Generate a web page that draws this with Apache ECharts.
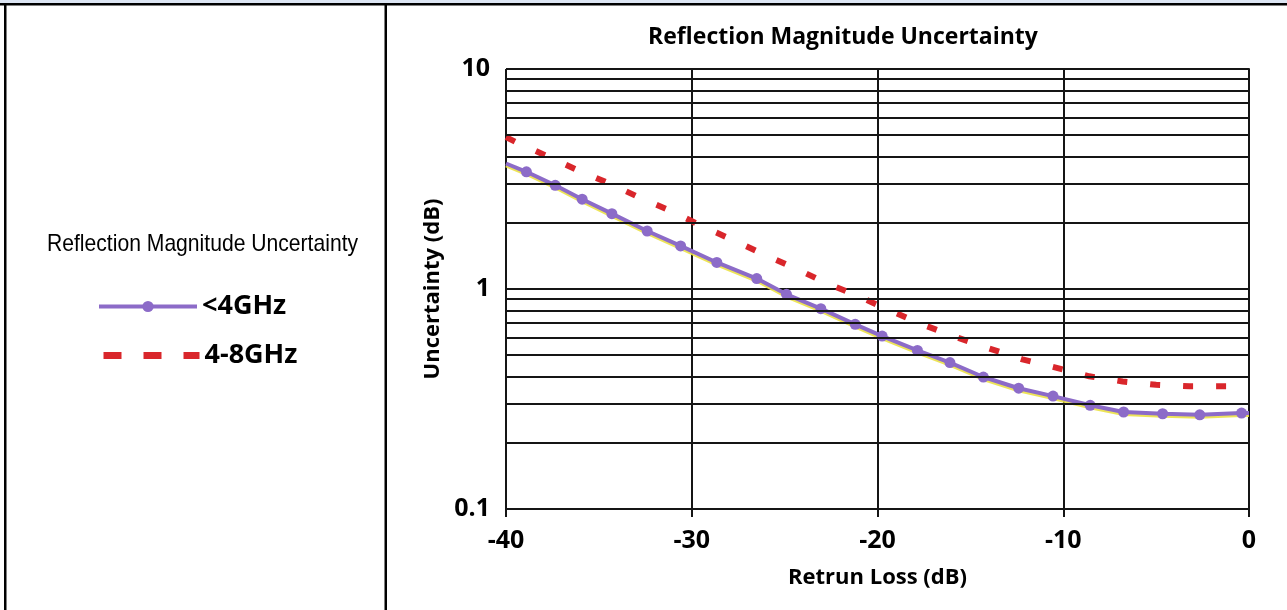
<!DOCTYPE html>
<html>
<head>
<meta charset="utf-8">
<script src="https://cdn.jsdelivr.net/npm/echarts@6/dist/echarts.min.js"></script>
<style>
html,body{margin:0;padding:0;background:#fff;}
#chart{width:1287px;height:610px;}
</style>
</head>
<body>
<div id="chart"></div>
<script>
// ---- data ----
const seriesNames = ['<4GHz', '4-8GHz'];
const returnLossLow = [-40, -38.9, -37.35, -35.9, -34.3, -32.4, -30.6, -28.65, -26.5, -24.9, -23.05, -21.2, -19.75, -17.85, -16.1, -14.3, -12.4, -10.55, -8.55, -6.75, -4.65, -2.65, -0.4, 0];
const uncertaintyLow = [3.72, 3.41, 2.96, 2.56, 2.20, 1.835, 1.57, 1.32, 1.115, 0.946, 0.814, 0.691, 0.611, 0.526, 0.463, 0.398, 0.354, 0.326, 0.296, 0.276, 0.271, 0.268, 0.273, 0.273];
const returnLossHigh = [-40, -39.5, -37.8, -36.15, -34.45, -32.75, -31.1, -29.45, -27.75, -26.1, -24.4, -22.75, -21.05, -19.35, -17.6, -15.8, -14.05, -12.2, -10.4, -8.6, -6.8, -5.0, -3.2, -1.4, 0];
const uncertaintyHigh = [4.9, 4.67, 4.02, 3.47, 3.02, 2.59, 2.26, 1.93, 1.665, 1.434, 1.238, 1.065, 0.929, 0.80, 0.691, 0.605, 0.539, 0.479, 0.439, 0.401, 0.380, 0.367, 0.361, 0.361, 0.361];
const minorGridValues = [0.2, 0.3, 0.4, 0.5, 0.6, 0.7, 0.8, 0.9, 2, 3, 4, 5, 6, 7, 8, 9];
const chartTitle = 'Reflection Magnitude Uncertainty';
const xAxisName = 'Retrun Loss (dB)';
const yAxisName = 'Uncertainty (dB)';

const lowData = returnLossLow.map((x, i) => [x, uncertaintyLow[i]]);
const highData = returnLossHigh.map((x, i) => [x, uncertaintyHigh[i]]);

const FONT = '"Open Sans", "DejaVu Sans", sans-serif';
const PURPLE = '#8C6BC8';
const RED = '#D9262B';
const GRID = '#151515';

const chart = echarts.init(document.getElementById('chart'), null, {renderer: 'canvas'});
chart.setOption({
  animation: false,
  backgroundColor: '#fff',
  title: {
    text: chartTitle,
    left: 838,
    textAlign: 'center',
    top: 21,
    textStyle: {fontFamily: FONT, fontWeight: 'bold', fontSize: 23, color: '#000'}
  },
  legend: [
    {
      data: [{name: seriesNames[0], lineStyle: {width: 4}}],
      left: 97, top: 293, orient: 'horizontal', padding: 0,
      itemWidth: 98, itemHeight: 14,
      textStyle: {fontFamily: FONT, fontWeight: 'bold', fontSize: 27, color: '#000'},
      selectedMode: false
    },
    {
      data: [{name: seriesNames[1], lineStyle: {type: [18, 22], width: 7}, itemStyle: {opacity: 0}}],
      left: 100, top: 342, orient: 'horizontal', padding: 0,
      itemWidth: 96, itemHeight: 14,
      textStyle: {fontFamily: FONT, fontWeight: 'bold', fontSize: 27, color: '#000'},
      selectedMode: false
    }
  ],
  grid: {left: 506, right: 38, top: 69, bottom: 101, containLabel: false},
  xAxis: {
    type: 'value', min: -40, max: 0, interval: 10,
    name: xAxisName, nameLocation: 'middle', nameGap: 58,
    nameTextStyle: {fontFamily: FONT, fontWeight: 'bold', fontSize: 22, color: '#000'},
    axisLine: {show: true, lineStyle: {color: GRID, width: 2}},
    axisTick: {show: true, length: 8, lineStyle: {color: GRID, width: 2}},
    axisLabel: {fontFamily: FONT, fontWeight: 'bold', fontSize: 25, color: '#000', margin: 19},
    splitLine: {show: true, lineStyle: {color: GRID, width: 2}}
  },
  yAxis: {
    type: 'log', logBase: 10, min: 0.1, max: 10,
    name: yAxisName, nameLocation: 'middle', nameGap: 60,
    nameTextStyle: {fontFamily: FONT, fontWeight: 'bold', fontSize: 22, color: '#000'},
    axisLine: {show: true, lineStyle: {color: GRID, width: 2}},
    axisTick: {show: true, length: 7, lineStyle: {color: GRID, width: 2}},
    axisLabel: {fontFamily: FONT, fontWeight: 'bold', fontSize: 25, color: '#000', margin: 16},
    splitLine: {show: true, lineStyle: {color: GRID, width: 2}},
    minorTick: {show: false}, minorSplitLine: {show: false}
  },
  series: [
    {
      name: 'minor-grid', type: 'line', data: [], z: 1, silent: true,
      markLine: {
        silent: true, symbol: ['none', 'none'], label: {show: false},
        lineStyle: {color: GRID, width: 1.8, type: 'solid'},
        data: minorGridValues.map(v => ({yAxis: v}))
      }
    },
    {
      name: seriesNames[1], type: 'line', data: highData, z: 3,
      showSymbol: false, symbol: 'none',
      lineStyle: {color: RED, width: 6, type: [10, 23]},
      itemStyle: {color: RED}
    },
    {
      name: seriesNames[0], type: 'line', data: lowData, z: 4,
      symbol: (val, p) => (p.dataIndex === 0 || p.dataIndex === lowData.length - 1) ? 'none' : 'circle',
      symbolSize: 11, showSymbol: true,
      lineStyle: {color: PURPLE, width: 4, shadowColor: 'rgba(235,225,70,0.9)', shadowBlur: 0, shadowOffsetY: 2},
      itemStyle: {color: PURPLE, borderWidth: 0}
    }
  ],
  graphic: [
    {type: 'rect', shape: {x: 0, y: 0, width: 1287, height: 3}, style: {fill: '#DCE5F3'}, silent: true},
    {type: 'rect', shape: {x: 0, y: 3, width: 1287, height: 2.5}, style: {fill: '#000'}, silent: true},
    {type: 'rect', shape: {x: 4, y: 3, width: 2.5, height: 607}, style: {fill: '#000'}, silent: true},
    {type: 'rect', shape: {x: 384.5, y: 3, width: 2.5, height: 607}, style: {fill: '#000'}, silent: true},
    {type: 'text', x: 47, y: 232, scaleX: 0.88,
      style: {text: chartTitle, font: '24px "Liberation Sans", Arial, sans-serif', fill: '#000'}, silent: true}
  ]
});
</script>
</body>
</html>
